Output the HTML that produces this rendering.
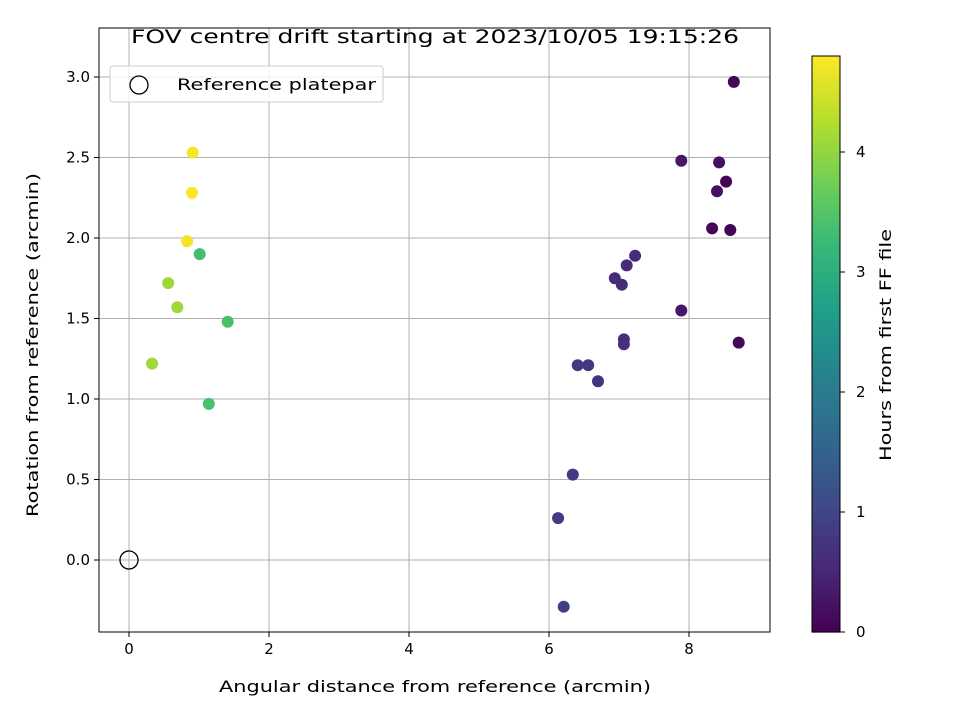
<!DOCTYPE html>
<html><head><meta charset="utf-8"><style>
body{margin:0;background:#fff;font-family:"Liberation Sans","DejaVu Sans",sans-serif}
svg text{font-family:"DejaVu Sans","Liberation Sans",sans-serif}
</style></head><body>
<svg id="chart" width="960" height="720" xmlns="http://www.w3.org/2000/svg"></svg>
<script>
const xValues=[0.91,0.90,0.83,1.01,0.56,0.69,1.41,0.33,1.14,8.64,7.89,8.43,8.53,8.40,8.33,8.59,7.23,7.11,6.94,7.04,7.89,7.07,7.07,8.71,6.41,6.56,6.70,6.34,6.13,6.21];
const yValues=[2.53,2.28,1.98,1.90,1.72,1.57,1.48,1.22,0.97,2.97,2.48,2.47,2.35,2.29,2.06,2.05,1.89,1.83,1.75,1.71,1.55,1.37,1.34,1.35,1.21,1.21,1.11,0.53,0.26,-0.29];
const hours=[4.75,4.75,4.7,3.35,4.1,4.1,3.4,4.1,3.4,0.05,0.3,0.2,0.05,0.2,0.1,0.05,0.6,0.6,0.6,0.6,0.3,0.65,0.65,0.1,0.8,0.75,0.7,0.8,0.85,0.9];
const xTicks=[0,2,4,6,8];
const yTicks=[0.0,0.5,1.0,1.5,2.0,2.5,3.0];
const cTicks=[0,1,2,3,4];
const L=99,R=770,T=28,B=632;
const X=v=>129+v*70, Y=v=>560-v*161;
const CT=56,CB=632,CMAX=4.8,C=v=>CB-v*(CB-CT)/CMAX;
const vir=[[68,1,84],[72,40,120],[62,74,137],[49,104,142],[38,130,142],[31,158,137],[53,183,121],[110,206,88],[181,222,43],[253,231,37]];
function col(t){t=Math.max(0,Math.min(1,t))*9;const i=Math.min(8,Math.floor(t)),f=t-i;const a=vir[i],b=vir[i+1];return`rgb(${a.map((c,k)=>Math.round(c+(b[k]-c)*f)).join(',')})`;}
const s=document.getElementById('chart');const NS='http://www.w3.org/2000/svg';
function el(tag,at,txt){const e=document.createElementNS(NS,tag);for(const k in at)e.setAttribute(k,at[k]);if(txt!==undefined)e.textContent=txt;s.appendChild(e);return e;}
let e;
xTicks.forEach(v=>{e=el('line',{x1:X(v),x2:X(v),y1:T,y2:B,stroke:'#b0b0b0','stroke-width':1});
e=el('line',{x1:X(v),x2:X(v),y1:B,y2:B+5,stroke:'#000'});
e=el('text',{x:X(v),y:B+22,'text-anchor':'middle','font-size':15},String(v));});
yTicks.forEach(v=>{e=el('line',{x1:L,x2:R,y1:Y(v),y2:Y(v),stroke:'#b0b0b0','stroke-width':1});
e=el('line',{x1:L-5,x2:L,y1:Y(v),y2:Y(v),stroke:'#000'});
e=el('text',{x:L-9,y:Y(v)+5,'text-anchor':'end','font-size':15},v.toFixed(1));});
xValues.forEach((x,i)=>{e=el('circle',{cx:X(x),cy:Y(yValues[i]),r:6,fill:col(hours[i]/CMAX)});});
e=el('circle',{cx:X(0),cy:Y(0),r:9,fill:'none',stroke:'#000','stroke-width':1.3});
e=el('rect',{x:L,y:T,width:R-L,height:B-T,fill:'none',stroke:'#000','stroke-width':1});
e=el('rect',{x:110,y:66,width:273,height:36,rx:3,fill:'#fff','fill-opacity':0.8,stroke:'#ccc'});
e=el('circle',{cx:139,cy:85,r:9,fill:'none',stroke:'#000','stroke-width':1.3});
e=el('text',{x:177,y:90,'font-size':16,textLength:199,lengthAdjust:'spacingAndGlyphs'},'Reference platepar');
e=el('text',{x:131,y:43,'font-size':19,textLength:608,lengthAdjust:'spacingAndGlyphs'},'FOV centre drift starting at 2023/10/05 19:15:26');
e=el('text',{x:219,y:692,'font-size':16,textLength:432,lengthAdjust:'spacingAndGlyphs'},'Angular distance from reference (arcmin)');
e=el('text',{x:0,y:0,'font-size':16,textLength:344,lengthAdjust:'spacingAndGlyphs',transform:'translate(38 517) rotate(-90)'},'Rotation from reference (arcmin)');
const n=120;for(let i=0;i<n;i++){e=el('rect',{x:812,y:CT+(CB-CT)*(n-1-i)/n,width:28,height:(CB-CT)/n+0.6,fill:col((i+0.5)/n)});}
e=el('rect',{x:812,y:CT,width:28,height:CB-CT,fill:'none',stroke:'#000'});
cTicks.forEach(v=>{e=el('line',{x1:840,x2:845,y1:C(v),y2:C(v),stroke:'#000'});
e=el('text',{x:856,y:C(v)+5,'font-size':15},String(v));});
e=el('text',{x:0,y:0,'font-size':16,textLength:232,lengthAdjust:'spacingAndGlyphs',transform:'translate(891 461) rotate(-90)'},'Hours from first FF file');
</script>
</body></html>
